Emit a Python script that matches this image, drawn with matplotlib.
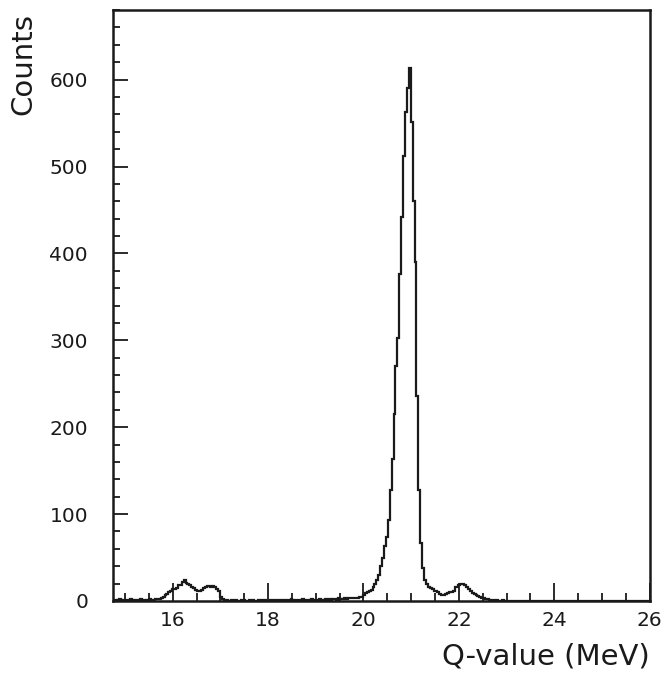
import numpy as np
import matplotlib
matplotlib.use("Agg")
import matplotlib.pyplot as plt
from matplotlib.ticker import MultipleLocator

# histogram binning (MeV)
X_MIN = 14.75
BIN_W = 0.04

# counts per bin, left to right
counts_low = [1, 0, 1, 2, 1, 1, 0, 1, 1, 2,
              1, 0, 1, 1, 2, 1, 1, 0, 1, 2,
              1, 1, 2, 2]
counts_bump16 = [2, 3, 5, 7, 8, 10, 11, 14, 14, 15,
                 18, 18, 22, 24, 21, 20, 18, 16, 15, 13,
                 12, 11, 13, 15, 16, 17, 17, 16, 17, 16,
                 14, 11, 5, 2, 1]
counts_mid = [1, 0, 0, 1, 0, 1, 0, 0, 1, 1,
              0, 0, 1, 0, 1, 0, 0, 1, 0, 1,
              1, 0, 0, 1, 0, 1, 0, 1, 1, 0,
              1, 0, 1, 1, 2, 1, 0, 1, 1, 0,
              2, 1, 1, 0, 1, 2, 1, 1, 0, 2,
              1, 1, 2, 1, 2, 1, 2, 2, 1, 3,
              2, 2, 3, 2, 3, 3]
counts_peak = [3, 3, 4, 4, 5, 5, 7, 9, 10, 12,
               13, 16, 20, 24, 30, 40, 50, 63, 74, 93,
               128, 163, 215, 270, 303, 376, 442, 512, 563, 590,
               613, 551, 460, 390, 236, 128, 67, 38, 24, 19,
               16, 15, 14, 12, 11, 10, 8, 7, 7, 8,
               9, 10, 10, 12, 16, 16, 18, 19, 20, 18,
               16, 14, 12, 9, 8, 7, 6, 5, 4, 3,
               2, 2, 1]
counts_tail = [1, 1, 0, 1, 0, 0, 1, 0, 0, 0,
               0, 0, 0, 0, 0, 0, 0, 0, 0, 0,
               0, 0, 0, 0, 0, 0, 0, 0, 0, 0,
               0, 0, 0, 0, 0, 0, 0, 0, 0, 0,
               0, 0, 0, 0, 0, 0, 0, 0, 0, 0,
               0, 0, 0, 0, 0, 0, 0, 0, 0, 0,
               0, 0, 0, 0, 0, 0, 0, 0, 0, 0,
               0, 0, 0, 0, 0, 0, 0, 0, 0, 0,
               0, 0, 0]

counts = np.array(counts_low + counts_bump16 + counts_mid + counts_peak + counts_tail)
edges = X_MIN + BIN_W * np.arange(len(counts) + 1)

plt.rcParams["font.family"] = "DejaVu Sans"

fig = plt.figure(figsize=(6.65, 6.73), dpi=100)
ax = fig.add_axes([0.170, 0.107, 0.807, 0.878])

ax.stairs(counts, edges, color="#1a1a1a", lw=1.6)

ax.set_xlim(X_MIN, 26.0)
ax.set_ylim(0, 680)

ax.xaxis.set_major_locator(MultipleLocator(2))
ax.xaxis.set_minor_locator(MultipleLocator(0.5))
ax.yaxis.set_major_locator(MultipleLocator(100))
ax.yaxis.set_minor_locator(MultipleLocator(20))

ax.tick_params(axis="x", which="major", direction="in", length=13, width=1.3,
               labelsize=14.5, pad=7, top=False, colors="#1a1a1a")
ax.tick_params(axis="x", which="minor", direction="in", length=6, width=1.3,
               top=False, colors="#1a1a1a")
ax.tick_params(axis="y", which="major", direction="in", length=11, width=1.3,
               labelsize=14.5, pad=18, right=False, colors="#1a1a1a")
ax.tick_params(axis="y", which="minor", direction="in", length=5, width=1.3,
               right=False, colors="#1a1a1a")

for sp in ax.spines.values():
    sp.set_linewidth(1.8)
    sp.set_color("#1a1a1a")

fig.text(0.035, 0.981, "Counts", rotation=90, ha="center", va="top",
         fontsize=21, color="#1a1a1a")
fig.text(0.977, 0.012, "Q-value (MeV)", ha="right", va="baseline",
         fontsize=21, color="#1a1a1a")

fig.savefig("out.png", dpi=100)
